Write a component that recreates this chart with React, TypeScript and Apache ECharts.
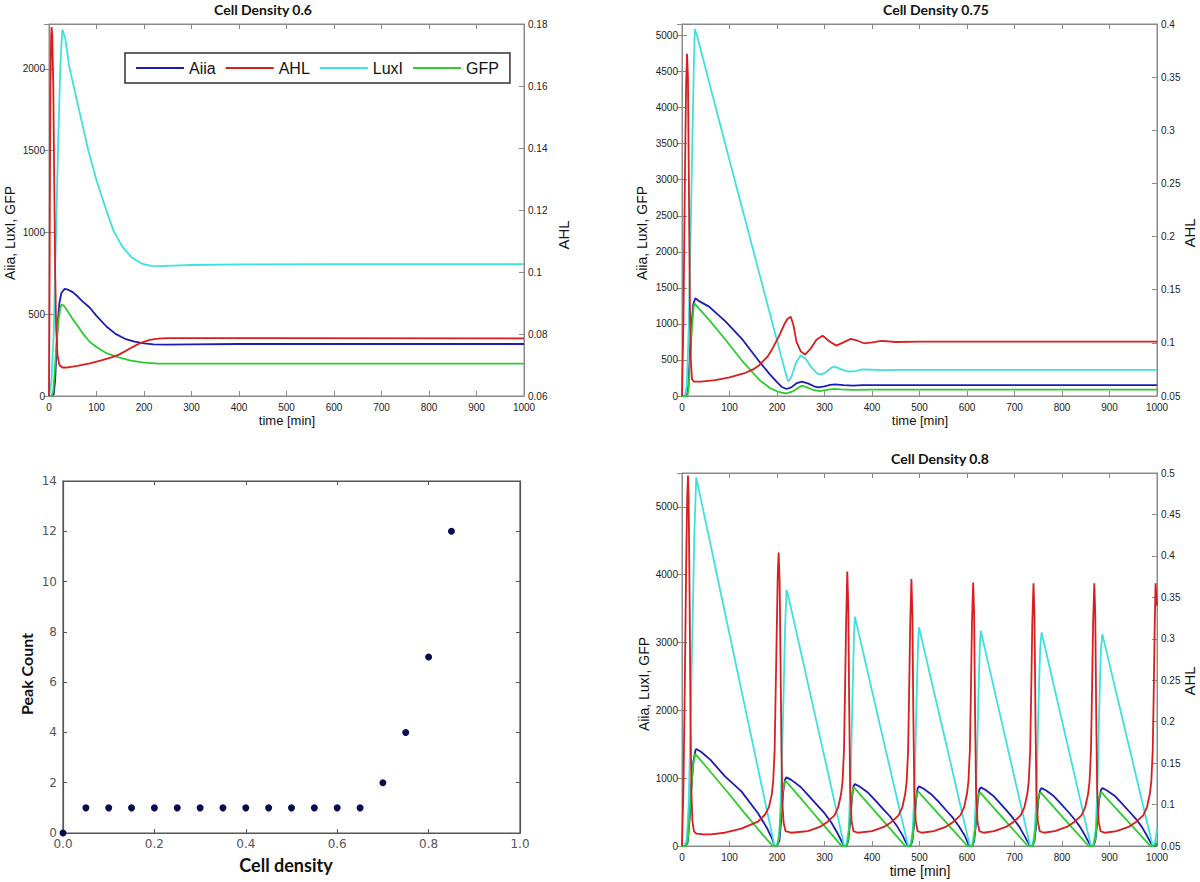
import React, { useEffect, useRef } from "react";
import * as echarts from "echarts";

// ---------- Panel 1: Cell Density 0.6 ----------
const P1_AIIA = [[0,0],[5,0],[10,10],[13,100],[16,300],[19,470],[22,570],[26,630],[33,655],[40,650],[50,635],[60,610],[70,580],[86,540],[100,490],[121,425],[140,380],[160,350],[180,332],[200,322],[220,316],[250,314],[300,316],[400,318],[1000,318]];
const P1_AHL = [[0,0.06],[1,0.09],[2,0.13],[3,0.16],[4.5,0.176],[5.5,0.179],[7,0.176],[9,0.16],[11,0.13],[13,0.10],[15,0.082],[18,0.073],[22,0.07],[28,0.0692],[40,0.0692],[60,0.0697],[86,0.0705],[110,0.0715],[130,0.0724],[145,0.0732],[160,0.0744],[175,0.0757],[191,0.077],[212,0.0781],[230,0.0785],[250,0.0787],[300,0.0787],[1000,0.0786]];
const P1_LUXI = [[0,0],[5,90],[10,390],[14,900],[19,1520],[24,2030],[28,2241],[34,2190],[43,2010],[55,1855],[70,1665],[83,1500],[100,1320],[120,1140],[136,1010],[155,910],[175,845],[195,810],[215,796],[235,794],[260,797],[300,801],[400,805],[600,806],[1000,806]];
const P1_GFP = [[0,0],[6,0],[9,30],[12,150],[16,330],[20,460],[24,540],[27,560],[32,550],[40,515],[50,470],[60,430],[72,380],[86,330],[100,300],[121,262],[145,238],[170,218],[200,204],[230,198],[300,198],[1000,198]];

// ---------- Panel 2: Cell Density 0.75 ----------
const P2_AIIA = [[0,0],[10,0],[13,100],[16,500],[20,1000],[24,1280],[28,1355],[35,1320],[57,1240],[92,1031],[128,777],[163,476],[185,300],[199,199],[210,125],[220,97],[230,120],[242,180],[252,199],[265,175],[278,135],[287,120],[300,135],[312,155],[322,162],[340,150],[360,145],[380,150],[420,150],[1000,150]];
const P2_AHL = [[0,0.05],[3,0.12],[6,0.25],[8.5,0.34],[10.6,0.372],[12.5,0.35],[14.5,0.25],[16.5,0.14],[18.5,0.085],[21,0.066],[25,0.0635],[40,0.0635],[70,0.065],[100,0.0675],[130,0.0712],[150,0.075],[163,0.0792],[180,0.087],[191,0.095],[205,0.107],[215,0.117],[222,0.1225],[229,0.1245],[235,0.116],[241,0.101],[250,0.092],[259,0.089],[270,0.094],[283,0.103],[296,0.1068],[310,0.1015],[325,0.0974],[340,0.1005],[355,0.1037],[370,0.102],[383,0.0996],[400,0.1005],[420,0.1018],[450,0.1008],[500,0.1012],[1000,0.1012]];
const P2_LUXI = [[0,0],[6,0],[10,150],[14,900],[18,2200],[22,3600],[25,4600],[27,5092],[32,4990],[60,4280],[100,3270],[140,2270],[180,1270],[200,770],[212,470],[220,270],[224,200],[230,260],[240,460],[250,565],[260,520],[272,400],[285,310],[294,300],[305,340],[315,395],[322,407],[335,370],[350,340],[365,345],[380,368],[395,365],[420,358],[460,362],[1000,362]];
const P2_GFP = [[0,0],[11,0],[14,100],[17,500],[21,950],[24,1200],[26,1286],[35,1220],[57,1055],[92,777],[128,476],[163,222],[185,110],[199,69],[210,45],[220,37],[232,60],[244,110],[252,143],[265,115],[278,80],[290,69],[305,85],[320,100],[335,92],[360,85],[400,88],[1000,88]];

// ---------- Panel 3: Peak count vs cell density ----------
const P3_DENSITY = [0, 0.05, 0.1, 0.15, 0.2, 0.25, 0.3, 0.35, 0.4, 0.45, 0.5, 0.55, 0.6, 0.65, 0.7, 0.75, 0.8, 0.85];
const P3_PEAKS = [0, 1, 1, 1, 1, 1, 1, 1, 1, 1, 1, 1, 1, 1, 2, 4, 7, 12];

// ---------- Panel 4: Cell Density 0.8 ----------
const P4_AIIA = [[0,0],[8,0],[12,50],[16,400],[20,900],[24,1250],[28,1400],[30,1431],[40,1390],[60,1270],[90,1030],[125,805],[160,484],[180,250],[190,100],[195,0],
[200,0],[205,80],[209,400],[213,800],[217,980],[220,1012],[230,975],[250,870],[265,755],[285,600],[300,484],[315,340],[328,180],[336,70],[341,0],
[346,0],[350,70],[354,360],[358,720],[361,880],[364,913],[373,880],[392,785],[406,680],[424,540],[438,435],[452,300],[464,160],[471,60],[476,0],
[481,0],[485,70],[489,350],[493,690],[496,850],[499,879],[508,847],[526,755],[540,655],[557,520],[570,418],[583,290],[595,155],[601,58],[606,0],
[611,0],[615,70],[619,340],[623,680],[626,835],[629,864],[638,832],[655,742],[668,643],[685,511],[697,410],[710,285],[721,150],[728,57],[733,0],
[738,0],[742,70],[746,335],[750,670],[754,825],[757,854],[766,822],[783,733],[796,636],[813,505],[825,405],[838,282],[849,150],[856,56],[861,0],
[866,0],[870,70],[874,335],[878,670],[882,825],[885,854],[894,822],[912,733],[925,636],[942,505],[955,405],[968,282],[979,150],[986,56],[991,0],[996,0],[1000,40]];
const P4_AHL = [[0,0.05],[3,0.12],[6,0.25],[9,0.4],[11,0.47],[12.6,0.497],[14,0.47],[16,0.35],[18,0.2],[20,0.11],[22,0.08],[25,0.068],[30,0.065],[45,0.064],[60,0.064],[90,0.066],[125,0.071],[160,0.0795],[175,0.088],[183,0.097],[189,0.112],[192,0.128],
[195,0.165],[197,0.23],[199.5,0.31],[201.5,0.375],[203.5,0.404],[205.5,0.37],[207.5,0.27],[209.5,0.16],[211.5,0.1],[214,0.078],[218,0.068],[230,0.066],[265,0.068],[290,0.073],[306,0.079],[321,0.087],[329,0.097],[335,0.113],[338,0.128],
[341,0.165],[343,0.23],[345.5,0.32],[348,0.381],[350,0.34],[352,0.22],[354,0.12],[357,0.08],[361,0.068],[370,0.066],[400,0.068],[425,0.073],[441,0.079],[456,0.087],[464,0.097],[470,0.113],[473,0.128],
[476,0.165],[478,0.23],[480.5,0.32],[483,0.372],[485,0.33],[487,0.21],[489,0.12],[492,0.08],[496,0.068],[505,0.066],[530,0.068],[555,0.073],[571,0.079],[586,0.087],[594,0.097],[600,0.113],[603,0.128],
[606,0.165],[608,0.23],[610.5,0.32],[613,0.368],[615,0.33],[617,0.21],[619,0.12],[622,0.08],[626,0.068],[635,0.066],[657,0.068],[682,0.073],[698,0.079],[713,0.087],[721,0.097],[727,0.113],[730,0.128],
[733,0.165],[735,0.23],[737.5,0.32],[740,0.367],[742,0.33],[744,0.21],[746,0.12],[749,0.08],[753,0.068],[762,0.066],[785,0.068],[810,0.073],[826,0.079],[841,0.087],[849,0.097],[855,0.113],[858,0.128],
[861,0.165],[863,0.23],[865.5,0.32],[868,0.367],[870,0.33],[872,0.21],[874,0.12],[877,0.08],[881,0.068],[890,0.066],[915,0.068],[940,0.073],[956,0.079],[971,0.087],[979,0.097],[985,0.113],[988,0.128],
[991,0.165],[993,0.23],[995,0.31],[997,0.367],[1000,0.34]];
const P4_LUXI = [[0,0],[5,0],[10,100],[14,600],[18,1800],[22,3200],[26,4600],[30,5435],[35,5270],[60,4445],[90,3455],[120,2465],[150,1475],[170,815],[185,320],[193,60],[195,0],
[200,10],[205,200],[209,900],[213,2000],[217,3200],[220,3776],[224,3680],[250,2870],[280,1930],[310,1000],[330,370],[338,110],[341,0],
[346,10],[351,250],[355,1000],[359,2200],[362,3100],[364,3381],[368,3260],[400,2290],[430,1380],[460,480],[472,120],[476,0],
[481,10],[486,250],[490,1000],[494,2200],[497,3000],[499,3223],[503,3103],[530,2290],[560,1390],[590,480],[602,120],[606,0],
[611,10],[616,250],[620,1000],[624,2200],[627,2950],[629,3174],[633,3052],[660,2228],[690,1313],[720,397],[729,120],[733,0],
[738,10],[743,250],[747,1000],[751,2200],[754,2900],[757,3149],[761,3028],[790,2150],[820,1240],[850,330],[858,90],[861,0],
[866,10],[871,250],[875,1000],[879,2200],[882,2900],[885,3124],[889,3006],[920,2091],[950,1206],[980,321],[988,90],[991,0],[995,20],[1000,250]];
const P4_GFP = [[0,0],[8,0],[12,60],[16,450],[20,900],[24,1220],[28,1357],[40,1260],[70,1010],[100,760],[130,500],[160,250],[180,85],[190,10],[195,0],
[200,0],[204,100],[208,450],[212,800],[216,940],[218,962],[240,783],[270,538],[300,293],[320,130],[333,25],[338,0],[341,0],
[346,0],[350,100],[354,420],[358,760],[360,840],[362,864],[390,640],[420,400],[450,160],[465,40],[470,0],[476,0],
[481,0],[485,100],[489,400],[493,720],[495,780],[497,805],[525,588],[555,356],[585,124],[595,46],[601,0],[606,0],
[611,0],[615,100],[619,400],[623,710],[625,770],[627,795],[655,574],[685,338],[715,102],[728,0],[733,0],
[738,0],[742,100],[746,400],[750,705],[752,765],[755,790],[785,555],[815,320],[845,86],[856,0],[861,0],
[866,0],[870,100],[874,400],[878,705],[880,765],[883,790],[913,560],[943,330],[973,100],[986,0],[991,0],[995,5],[1000,60]];

const LEGEND_NAMES = ["Aiia", "AHL", "LuxI", "GFP"];
const TIME_TICKS = { min: 0, max: 1000, interval: 100 };

const C_BLUE = "#1c1cb4";
const C_RED = "#d81e1e";
const C_CYAN = "#3ee0e0";
const C_GREEN = "#2ecc2e";
const AX = "#8a8a8a";
const FONT = "'Liberation Sans', Arial, sans-serif";
const TFONT = "Lato, 'Open Sans', sans-serif";

const plain = (v: number) => String(+Number(v).toFixed(4));

function mlXAxes(gridIndex: number) {
  const base = {
    type: "value", gridIndex, min: TIME_TICKS.min, max: TIME_TICKS.max, interval: TIME_TICKS.interval,
    axisLine: { show: true, onZero: false, lineStyle: { color: AX, width: 1 } },
    axisTick: { show: true, inside: true, length: 5, lineStyle: { color: AX } },
    splitLine: { show: false },
  };
  return [
    { ...base, position: "bottom", axisLabel: { color: "#222", fontSize: 10, fontFamily: FONT, margin: 6, formatter: plain } },
    { ...base, position: "top", axisLabel: { show: false } },
  ];
}

function mlYAxes(gridIndex: number, lMax: number, lInt: number, rMin: number, rMax: number, rInt: number) {
  const common = {
    type: "value", gridIndex, splitLine: { show: false },
    axisLine: { show: true, onZero: false, lineStyle: { color: AX } },
    axisTick: { show: true, inside: true, length: 5, lineStyle: { color: AX } },
  };
  return [
    { ...common, position: "left", min: 0, max: lMax, interval: lInt,
      axisLabel: { color: "#222", fontSize: 10, fontFamily: FONT, margin: 4, showMaxLabel: false, formatter: plain } },
    { ...common, position: "right", min: rMin, max: rMax, interval: rInt,
      axisLabel: { color: "#222", fontSize: 10, fontFamily: FONT, margin: 4, formatter: plain } },
    { ...common, position: "right", min: 0, max: lMax, interval: lInt, axisLine: { show: false },
      axisLabel: { show: false } },
  ];
}

function line(name: string, data: number[][], color: string, xIdx: number, yIdx: number) {
  return {
    type: "line", name, data, xAxisIndex: xIdx, yAxisIndex: yIdx,
    showSymbol: false, symbol: "none", clip: true,
    lineStyle: { color, width: 1.8 }, itemStyle: { color },
  };
}

function txt(text: string, x: number, y: number, size: number, opts: any = {}) {
  return {
    type: "text", x, y, rotation: opts.rotate ? Math.PI / 2 : 0, z: 100,
    style: {
      text, fill: opts.color || "#111", fontSize: size, fontFamily: opts.family || FONT,
      fontWeight: opts.bold ? "bold" : "normal",
      textAlign: "center", align: "center", textVerticalAlign: "middle", verticalAlign: "middle",
    },
  };
}

function buildOption() {
  const p3Frame = "#555";
  const p3Axis = {
    axisLine: { show: true, onZero: false, lineStyle: { color: p3Frame, width: 1.2 } },
    axisTick: { show: true, inside: true, length: 4, lineStyle: { color: p3Frame } },
    splitLine: { show: false },
  };
  return {
    animation: false,
    backgroundColor: "#fff",
    grid: [
      { left: 49, top: 24, width: 475, height: 372, show: true, borderColor: AX, borderWidth: 1, backgroundColor: "#fff" },
      { left: 682, top: 24, width: 475, height: 372, show: true, borderColor: AX, borderWidth: 1, backgroundColor: "#fff" },
      { left: 63, top: 481, width: 457, height: 352, show: true, borderColor: p3Frame, borderWidth: 1.2, backgroundColor: "#fff" },
      { left: 682, top: 473, width: 475, height: 373, show: true, borderColor: AX, borderWidth: 1, backgroundColor: "#fff" },
    ],
    xAxis: [
      ...mlXAxes(0),
      ...mlXAxes(1),
      { type: "value", gridIndex: 2, position: "bottom", min: 0, max: 1, interval: 0.2, ...p3Axis,
        axisLabel: { color: "#555", fontSize: 12, fontFamily: "'DejaVu Sans', sans-serif", margin: 5,
          formatter: (v: number) => v.toFixed(1) } },
      { type: "value", gridIndex: 2, position: "top", min: 0, max: 1, interval: 0.2, ...p3Axis, axisLabel: { show: false } },
      ...mlXAxes(3),
    ],
    yAxis: [
      ...mlYAxes(0, 2275, 500, 0.06, 0.18, 0.02),
      ...mlYAxes(1, 5160, 500, 0.05, 0.4, 0.05),
      { type: "value", gridIndex: 2, position: "left", min: 0, max: 14, interval: 2, ...p3Axis,
        axisLabel: { color: "#555", fontSize: 12, fontFamily: "'DejaVu Sans', sans-serif", margin: 6 } },
      { type: "value", gridIndex: 2, position: "right", min: 0, max: 14, interval: 2, ...p3Axis, axisLabel: { show: false } },
      ...mlYAxes(3, 5500, 1000, 0.05, 0.5, 0.05),
    ],
    legend: {
      data: LEGEND_NAMES, left: 125, top: 53, orient: "horizontal", icon: "rect",
      itemWidth: 48, itemHeight: 2, itemGap: 10, padding: [7, 11, 7, 11],
      borderColor: "#333", borderWidth: 1.5, backgroundColor: "#fff", selectedMode: false,
      textStyle: { fontSize: 16, fontFamily: FONT, color: "#111" },
    },
    series: [
      line("Aiia", P1_AIIA, C_BLUE, 0, 0),
      line("LuxI", P1_LUXI, C_CYAN, 0, 0),
      line("GFP", P1_GFP, C_GREEN, 0, 0),
      line("AHL", P1_AHL, C_RED, 0, 1),

      line("Aiia", P2_AIIA, C_BLUE, 2, 3),
      line("LuxI", P2_LUXI, C_CYAN, 2, 3),
      line("GFP", P2_GFP, C_GREEN, 2, 3),
      line("AHL", P2_AHL, C_RED, 2, 4),

      {
        type: "scatter", name: "Peak Count", xAxisIndex: 4, yAxisIndex: 6,
        data: P3_DENSITY.map((d, i) => [d, P3_PEAKS[i]]),
        symbol: "circle", symbolSize: 7, itemStyle: { color: "#0a0a4e", opacity: 1 },
      },

      line("Aiia", P4_AIIA, C_BLUE, 6, 8),
      line("LuxI", P4_LUXI, C_CYAN, 6, 8),
      line("GFP", P4_GFP, C_GREEN, 6, 8),
      line("AHL", P4_AHL, C_RED, 6, 9),
    ],
    graphic: [
      txt("Cell Density 0.6", 263, 9, 14, { bold: true, family: TFONT }),
      txt("Cell Density 0.75", 936, 9, 14, { bold: true, family: TFONT }),
      txt("Cell Density 0.8", 940, 458, 14, { bold: true, family: TFONT }),
      txt("Aiia, LuxI, GFP", 10, 233, 14, { rotate: true }),
      txt("AHL", 563, 235, 15, { rotate: true }),
      txt("time [min]", 287, 420, 13),
      txt("Aiia, LuxI, GFP", 642, 233, 14, { rotate: true }),
      txt("AHL", 1189, 233, 15, { rotate: true }),
      txt("time [min]", 920, 420, 13),
      txt("Aiia, LuxI, GFP", 644, 684, 14, { rotate: true }),
      txt("AHL", 1189, 681, 15, { rotate: true }),
      txt("time [min]", 920, 871, 14),
      txt("Peak Count", 26, 674, 16, { rotate: true, bold: true, family: TFONT }),
      txt("Cell density", 286, 865, 18, { bold: true, family: TFONT }),
    ],
  };
}

export default function App() {
  const ref = useRef<HTMLDivElement>(null);
  useEffect(() => {
    document.body.style.margin = "0";
    if (!ref.current) return;
    const chart = echarts.init(ref.current, null, { renderer: "svg" });
    chart.setOption(buildOption() as any);
    return () => chart.dispose();
  }, []);
  return <div ref={ref} style={{ width: 1200, height: 882 }} />;
}
